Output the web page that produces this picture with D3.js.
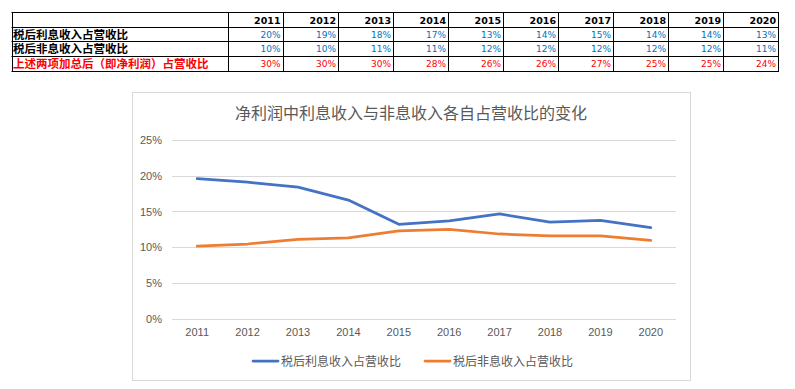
<!DOCTYPE html>
<html><head><meta charset="utf-8">
<script src="https://cdn.jsdelivr.net/npm/d3@7"></script>
<style>body{margin:0;background:#fff;} svg{display:block;}</style>
</head><body>
<svg id="c" width="795" height="389"></svg>
<script>
const years = ["2011","2012","2013","2014","2015","2016","2017","2018","2019","2020"];
const rowLabels = ["税后利息收入占营收比","税后非息收入占营收比","上述两项加总后（即净利润）占营收比"];
const tableInterest = ["20%","19%","18%","17%","13%","14%","15%","14%","14%","13%"];
const tableNonInterest = ["10%","10%","11%","11%","12%","12%","12%","12%","12%","11%"];
const tableTotal = ["30%","30%","30%","28%","26%","26%","27%","25%","25%","24%"];
const interestSeries = [19.6,19.1,18.4,16.6,13.2,13.7,14.65,13.5,13.75,12.75];
const nonInterestSeries = [10.15,10.45,11.1,11.3,12.3,12.5,11.85,11.6,11.6,10.95];
const yTicks = [0,5,10,15,20,25];
const title = "净利润中利息收入与非息收入各自占营收比的变化";
const seriesNames = ["税后利息收入占营收比","税后非息收入占营收比"];

const svg = d3.select("#c");

// ---- Table ----
const colEdges = [11.5,228,282.5,338,393,448,503,558,613,668,723,778];
const rowEdges = [12,27,41,56,71];
const tRows = [tableInterest, tableNonInterest, tableTotal];
const rowColors = ["#0070C0","#0070C0","#FF0000"];
const tg = svg.append("g");
rowEdges.forEach(y=>tg.append("line").attr("x1",colEdges[0]).attr("x2",colEdges[colEdges.length-1]).attr("y1",y+0.5).attr("y2",y+0.5).attr("stroke","#000").attr("stroke-width",1));
colEdges.forEach(x=>tg.append("line").attr("x1",Math.round(x)+0.5).attr("x2",Math.round(x)+0.5).attr("y1",rowEdges[0]).attr("y2",rowEdges[rowEdges.length-1]+1).attr("stroke","#000").attr("stroke-width",1));
years.forEach((yr,i)=>{
  tg.append("text").attr("x",colEdges[i+2]-2).attr("y",(rowEdges[0]+rowEdges[1])/2+4).attr("text-anchor","end")
    .attr("font-family","DejaVu Sans, Verdana, sans-serif").attr("font-weight","bold").attr("font-size","9.5px").attr("fill","#000").text(yr);
});
rowLabels.forEach((lab,r)=>{
  const yc=(rowEdges[r+1]+rowEdges[r+2])/2;
  tg.append("text").attr("x",13).attr("y",yc+4.5).attr("font-family","Noto Sans CJK SC, sans-serif").attr("font-weight","bold")
    .attr("font-size","11.5px").attr("fill",r===2?"#FF0000":"#000").text(lab);
  tRows[r].forEach((v,i)=>{
    tg.append("text").attr("x",colEdges[i+2]-2).attr("y",yc+3.5).attr("text-anchor","end")
      .attr("font-family","DejaVu Sans, Verdana, sans-serif").attr("font-size","9px").attr("fill",rowColors[r]).text(v);
  });
});

// ---- Chart ----
svg.append("rect").attr("x",132.5).attr("y",92.5).attr("width",558).attr("height",288).attr("fill","#fff").attr("stroke","#D9D9D9");
svg.append("text").attr("x",411).attr("y",119).attr("text-anchor","middle").attr("font-family","Noto Sans CJK SC, sans-serif")
  .attr("font-size","16px").attr("fill","#595959").text(title);

const x = d3.scaleBand().domain(years).range([172,676]);
const y = d3.scaleLinear().domain([0,25]).range([318.7,140]);

const grid = svg.append("g");
yTicks.forEach(t=>{
  grid.append("line").attr("x1",172).attr("x2",676).attr("y1",Math.round(y(t))+0.5).attr("y2",Math.round(y(t))+0.5).attr("stroke","#D9D9D9").attr("stroke-width",1);
});
const yAxis = svg.append("g").attr("transform","translate(172,0)")
  .call(d3.axisLeft(y).tickValues(yTicks).tickSize(0).tickPadding(10).tickFormat(d=>d+"%"));
yAxis.select(".domain").remove();
yAxis.selectAll("text").attr("font-family","Liberation Sans, Arial, sans-serif").attr("font-size","11px").attr("fill","#595959");

const xAxis = svg.append("g").attr("transform","translate(0,318.7)")
  .call(d3.axisBottom(x).tickSize(0).tickPadding(10));
xAxis.select(".domain").remove();
xAxis.selectAll("text").attr("font-family","Liberation Sans, Arial, sans-serif").attr("font-size","11px").attr("fill","#595959");

const line = d3.line().x((d,i)=>x(years[i])+x.bandwidth()/2).y(d=>y(d));
const colors = ["#4472C4","#ED7D31"];
[interestSeries, nonInterestSeries].forEach((s,k)=>{
  svg.append("path").datum(s).attr("d",line).attr("fill","none").attr("stroke",colors[k]).attr("stroke-width",2.75)
    .attr("stroke-linejoin","round").attr("stroke-linecap","round");
});

// legend
const legX = [253,425];
seriesNames.forEach((n,k)=>{
  svg.append("line").attr("x1",legX[k]).attr("x2",legX[k]+25).attr("y1",361).attr("y2",361).attr("stroke",colors[k]).attr("stroke-width",2.75).attr("stroke-linecap","round");
  svg.append("text").attr("x",legX[k]+28).attr("y",365.5).attr("font-family","Noto Sans CJK SC, sans-serif").attr("font-size","12px").attr("fill","#595959").text(n);
});
</script>
</body></html>
